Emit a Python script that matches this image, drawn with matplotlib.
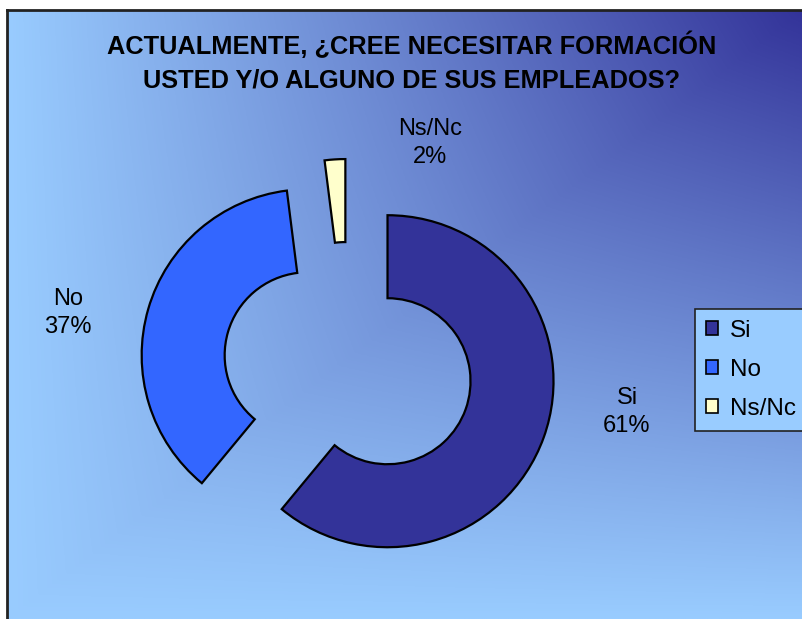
import numpy as np
import matplotlib
matplotlib.use('Agg')
import matplotlib.pyplot as plt
from matplotlib.patches import Patch

# Données du graphique
categorias = ['Si', 'No', 'Ns/Nc']
porcentajes = [61, 37, 2]
colores = ['#333399', '#3366FF', '#FFFFCC']
titulo = 'ACTUALMENTE, ¿CREE NECESITAR FORMACIÓN\nUSTED Y/O ALGUNO DE SUS EMPLEADOS?'

W, H = 803, 619
plt.rcParams['font.family'] = ['Liberation Sans', 'DejaVu Sans']

fig = plt.figure(figsize=(W / 100, H / 100), dpi=100)
fig.patch.set_facecolor('white')

# Fondo degradado (desde la esquina superior derecha)
top, left = 10, 7
ax_bg = fig.add_axes([left / W, 0, 1 - left / W, (H - top) / H])
ny, nx = 300, 400
xn = np.linspace(0, 1, nx)[None, :]
yn = np.linspace(0, 1, ny)[:, None]
t = 0.5 * (np.minimum(xn, 1 - yn) + xn * (1 - yn))
claro = np.array([153, 204, 255]) / 255
oscuro = np.array([51, 51, 153]) / 255
img = claro[None, None, :] + t[:, :, None] * (oscuro - claro)[None, None, :]
ax_bg.imshow(img, aspect='auto', extent=[0, 1, 0, 1], origin='upper')
ax_bg.set_axis_off()

# Ejes en píxeles para el gráfico
ax = fig.add_axes([0, 0, 1, 1])
ax.patch.set_alpha(0)

wedges, _ = ax.pie(porcentajes, colors=colores, radius=166, center=(348, H - 367),
                   startangle=90, counterclock=False, explode=[42, 42, 42],
                   wedgeprops=dict(width=83, edgecolor='black', linewidth=1.6),
                   frame=True)
ax.set_xlim(0, W)
ax.set_ylim(0, H)
ax.set_axis_off()

# Borde
ax.plot([left, W], [H - top, H - top], color='#222222', lw=2)
ax.plot([left, left], [0, H - top], color='#222222', lw=2)

ax.text(412, H - 62, titulo, ha='center', va='center', fontsize=18.3,
        fontweight='bold', linespacing=1.45)

etiquetas = [f'{c}\n{p}%' for c, p in zip(categorias, porcentajes)]
pos = [(627, H - 412), (68, H - 313), (430, H - 143)]
for (x, y), txt in zip(pos, etiquetas):
    ax.text(x, y, txt, ha='center', va='center', fontsize=17, linespacing=1.3)

handles = [Patch(facecolor=c, edgecolor='black', linewidth=1.2) for c in colores]
leg = fig.legend(handles, categorias, loc='upper left',
                 bbox_to_anchor=(695 / W, 1 - 309 / H), fontsize=17.5,
                 frameon=True, fancybox=False, framealpha=1,
                 handlelength=0.5, handleheight=0.5, handletextpad=0.5,
                 labelspacing=0.7, borderpad=0.45, borderaxespad=0)
leg.get_frame().set_facecolor('#99CCFF')
leg.get_frame().set_edgecolor('#222222')
leg.get_frame().set_linewidth(1.2)

fig.savefig('out.png', dpi=100)
